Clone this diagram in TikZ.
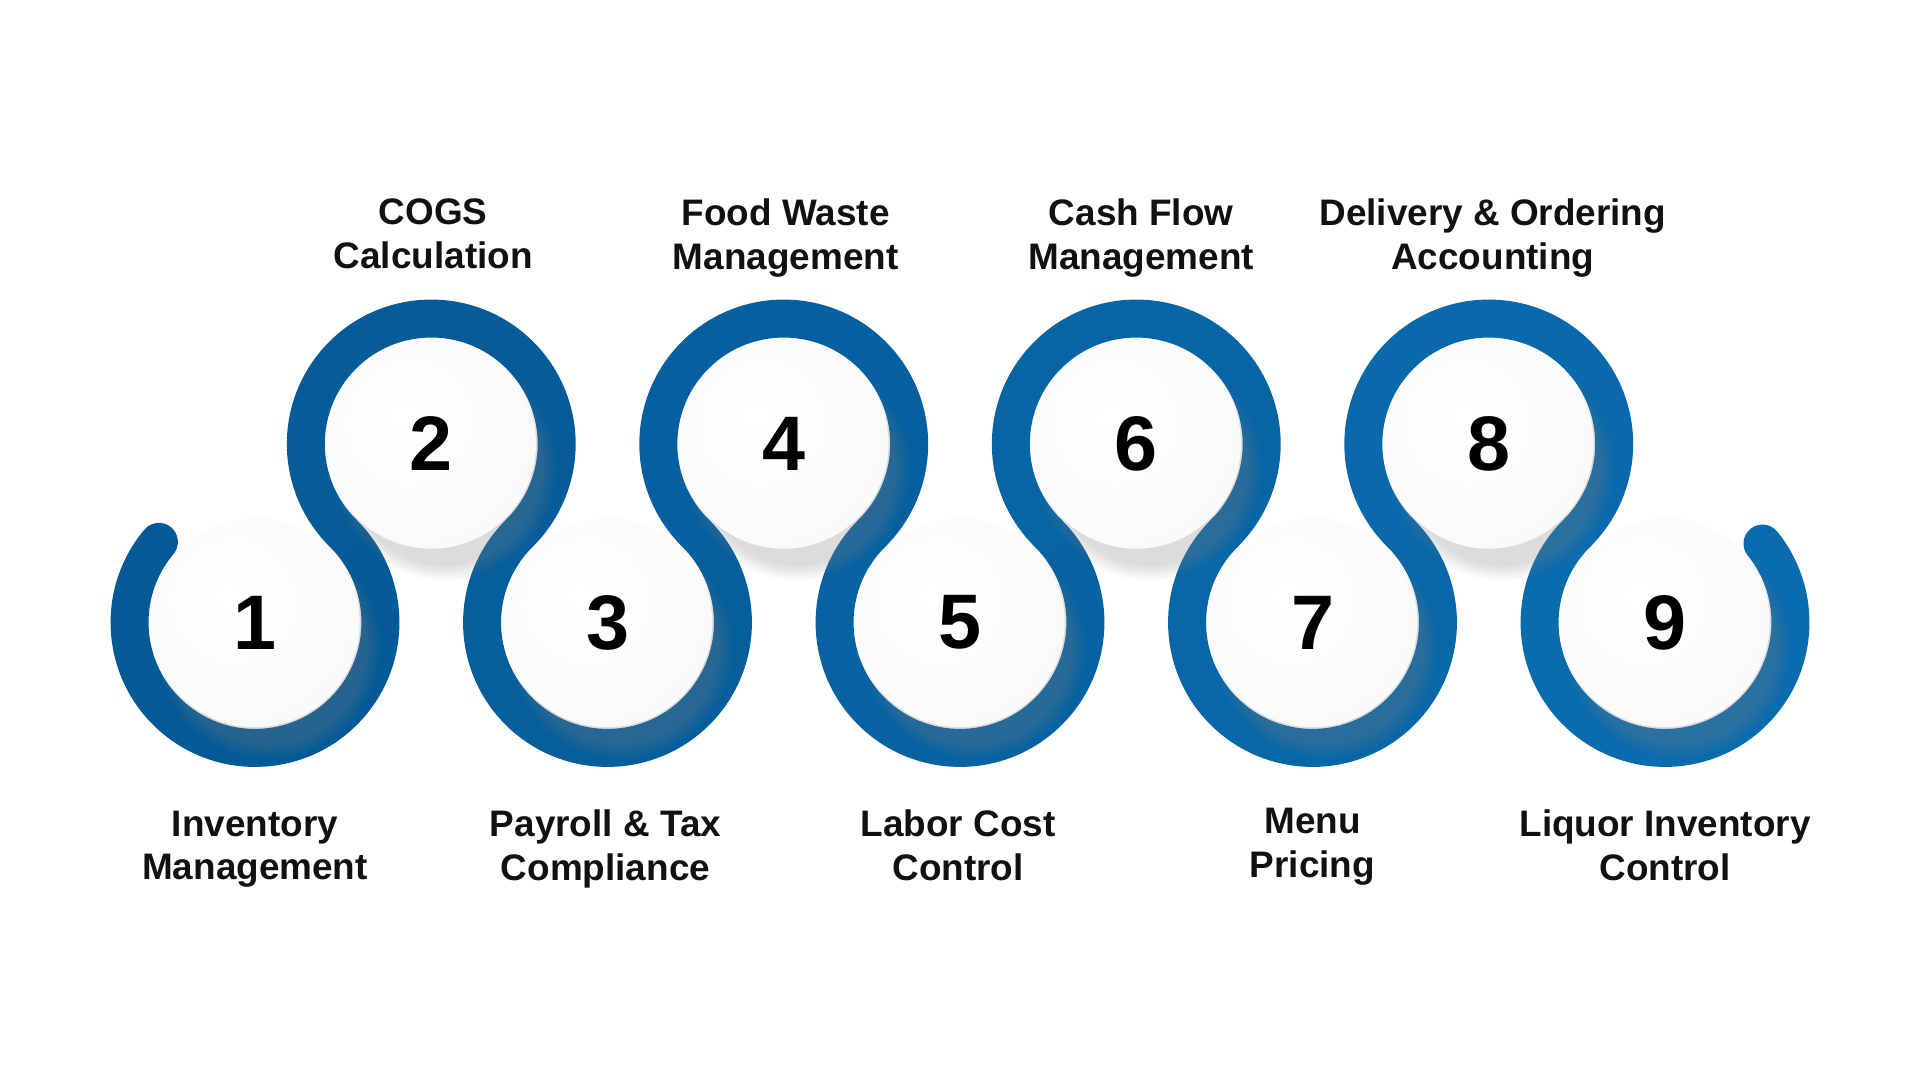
\documentclass[tikz,border=0pt]{standalone}
\usepackage{fontspec}
\setmainfont{Liberation Sans}
\usetikzlibrary{calc, shadows, backgrounds}
\definecolor{bandleft}{RGB}{4,90,150}
\definecolor{bandright}{RGB}{10,107,173}
\definecolor{labelink}{RGB}{17,17,17}
\pgfdeclareradialshading{diskshade}{\pgfpoint{-7bp}{7bp}}{color(0bp)=(white); color(30bp)=(white!98!black); color(42bp)=(white!95!black); color(50bp)=(white!86!black); color(60bp)=(white!80!black)}
\newcommand{\ringr}{1.2543}
\tikzset{
  disk/.style={circle, minimum size=2.094cm, inner sep=0pt, shading=diskshade,
    circular drop shadow={shadow xshift=0.12cm, shadow yshift=-0.22cm, opacity=0.28, shadow scale=1.08},
    font=\fontsize{22}{22}\selectfont\bfseries},
  lbl/.style={align=center, text=labelink, text depth=0pt, font=\fontsize{10.5}{12.5}\selectfont\bfseries},
  band/.style={line width=0.38cm, line cap=round}
}
\begin{document}
\begin{tikzpicture}
\useasboundingbox (0,0) rectangle (19.2,10.8);
% number disks, zigzag
\foreach \i in {1,...,9} {
  \pgfmathsetmacro{\px}{2.55+(\i-1)*1.7625}
  \pgfmathsetmacro{\py}{isodd(\i) ? 4.575 : 6.36}
  \node[disk] (c\i) at (\px,\py) {\i};
}
% winding band behind the disks
\begin{pgfonlayer}{background}
\foreach \i/\sa/\ea in {1/140/405.4, 2/225.4/-45.4, 3/134.6/405.4, 4/225.4/-45.4, 5/134.6/405.4,
                        6/225.4/-45.4, 7/134.6/405.4, 8/225.4/-45.4, 9/134.6/399} {
  \pgfmathsetmacro{\mix}{100-(\i-1)*12.5}
  \draw[band, bandleft!\mix!bandright] ($(c\i)+(\sa:\ringr)$) arc[start angle=\sa, end angle=\ea, radius=\ringr];
}
\end{pgfonlayer}
% labels
\node[lbl] (t1) at ($(c1)+(0,-2.228)$) {Inventory\\Management};
\node[lbl] (t2) at ($(c2)+(0.02,2.10)$) {COGS\\Calculation};
\node[lbl] (t3) at ($(c3)+(-0.02,-2.228)$) {Payroll \& Tax\\Compliance};
\node[lbl] (t4) at ($(c4)+(0.02,2.10)$) {Food Waste\\Management};
\node[lbl] (t5) at ($(c5)+(-0.02,-2.228)$) {Labor Cost\\Control};
\node[lbl] (t6) at ($(c6)+(0.05,2.10)$) {Cash Flow\\Management};
\node[lbl] (t7) at ($(c7)+(0,-2.20)$) {Menu\\Pricing};
\node[lbl] (t8) at ($(c8)+(0.04,2.10)$) {Delivery \& Ordering\\Accounting};
\node[lbl] (t9) at ($(c9)+(0,-2.228)$) {Liquor Inventory\\Control};
\end{tikzpicture}
\end{document}
